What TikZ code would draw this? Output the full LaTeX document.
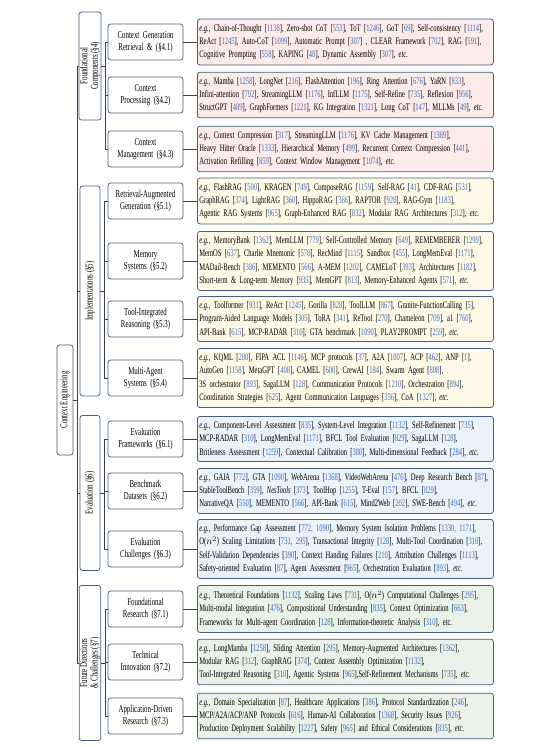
\documentclass[tikz,border=0pt]{standalone}
\usepackage{fontspec}
\setmainfont{Liberation Serif}[FakeStretch=0.655]
\usepackage{tikz}
\usetikzlibrary{positioning}
\definecolor{bd}{RGB}{70,95,125}
\definecolor{cb}{RGB}{60,110,190}
\definecolor{fpink}{RGB}{253,234,234}
\definecolor{fyel}{RGB}{255,249,232}
\definecolor{fblu}{RGB}{235,242,250}
\definecolor{fgrn}{RGB}{233,241,232}
\newcommand{\cit}[1]{[\textcolor{cb}{#1}]}
\newcommand{\EG}{\textit{e.g.},}
\newcommand{\ETC}{\textit{etc.}}

\begin{document}
\begin{tikzpicture}[x=1pt,y=-1pt,
  bx/.style={draw=bd,line width=0.75pt,rounded corners=2.5pt,fill=white},
  rt/.style={bx,rotate=90,minimum width=110pt,minimum height=16pt,inner sep=1pt,
             font=\fontsize{10.5}{11}\selectfont},
  grp/.style={bx,rotate=90,align=center,minimum height=20pt,inner sep=1pt,
              font=\fontsize{10.5}{10.5}\selectfont},
  sec/.style={bx,text width=71pt,align=center,minimum height=36pt,inner sep=2pt,
              font=\fontsize{10.5}{12}\selectfont},
  lf/.style={bx,anchor=west,text width=292pt,align=left,inner xsep=2pt,inner ysep=5pt,
             font=\fontsize{10}{13.3}\selectfont},
  fl/.style={lf,fill=fpink},
  il/.style={lf,fill=fyel},
  el/.style={lf,fill=fblu},
  dl/.style={lf,fill=fgrn},
  ed/.style={draw=black!75,line width=0.6pt}
]
\useasboundingbox (0,0) rectangle (554,747);
\def\SX{145.5}
\def\LX{197}
% root and sections
\node[rt] (root) at (65,400) {Context Engineering};
\node[grp,minimum width=108pt] (fnd)  at (90,66)  {Foundational\\Components (§4)};
\node[grp,minimum width=210pt] (impl) at (90,291) {Implementations (§5)};
\node[grp,minimum width=155pt] (eval) at (90,493) {Evaluation (§6)};
\node[grp,minimum width=155pt] (fut)  at (90,663) {Future Directions\\\& Challenges (§7)};
% subsections
\node[sec] (cgr)   at (\SX,42)  {Context Generation\\Retrieval \& (§4.1)};
\node[sec] (cproc) at (\SX,95)  {Context\\Processing (§4.2)};
\node[sec] (cmgmt) at (\SX,149) {Context\\Management (§4.3)};
\node[sec] (rag)   at (\SX,201) {Retrieval-Augmented\\Generation (§5.1)};
\node[sec] (mem)   at (\SX,261) {Memory\\Systems (§5.2)};
\node[sec] (tir)   at (\SX,319) {Tool-Integrated\\Reasoning (§5.3)};
\node[sec] (mas)   at (\SX,378) {Multi-Agent\\Systems (§5.4)};
\node[sec] (efw)   at (\SX,439) {Evaluation\\Frameworks (§6.1)};
\node[sec] (bds)   at (\SX,491) {Benchmark\\Datasets (§6.2)};
\node[sec] (ech)   at (\SX,549) {Evaluation\\Challenges (§6.3)};
\node[sec] (fres)  at (\SX,609) {Foundational\\Research (§7.1)};
\node[sec] (tinn)  at (\SX,662) {Technical\\Innovation (§7.2)};
\node[sec] (adr)   at (\SX,716) {Application-Driven\\Research (§7.3)};
% leaves: foundational components
\node[fl] (cgrL) at (\LX,42) {\EG{} Chain-of-Thought \cit{1138}, Zero-shot CoT \cit{553}, ToT \cit{1246}, GoT \cit{69}, Self-consistency \cit{1114},\\
  ReAct \cit{1245}, Auto-CoT \cit{1099}, Automatic Prompt \cit{307} , CLEAR Framework \cit{702}, RAG \cit{591},\\
  Cognitive Prompting \cit{558}, KAPING \cit{48}, Dynamic Assembly \cit{307}, \ETC};
\node[fl] (cprocL) at (\LX,95) {\EG{} Mamba \cit{1258}, LongNet \cit{216}, FlashAttention \cit{196}, Ring Attention \cit{676}, YaRN \cit{833},\\
  Infini-attention \cit{792}, StreamingLLM \cit{1176}, InfLLM \cit{1175}, Self-Refine \cit{735}, Reflexion \cit{956},\\
  StructGPT \cit{489}, GraphFormers \cit{1221}, KG Integration \cit{1321}, Long CoT \cit{147}, MLLMs \cit{49}, \ETC};
\node[fl] (cmgmtL) at (\LX,149) {\EG{} Context Compression \cit{317}, StreamingLLM \cit{1176}, KV Cache Management \cit{1389},\\
  Heavy Hitter Oracle \cit{1333}, Hierarchical Memory \cit{499}, Recurrent Context Compression \cit{441},\\
  Activation Refilling \cit{859}, Context Window Management \cit{1074}, \ETC};
% leaves: implementations
\node[il] (ragL) at (\LX,201) {\EG{} FlashRAG \cit{500}, KRAGEN \cit{749}, ComposeRAG \cit{1159}, Self-RAG \cit{41}, CDF-RAG \cit{531},\\
  GraphRAG \cit{374}, LightRAG \cit{360}, HippoRAG \cit{366}, RAPTOR \cit{928}, RAG-Gym \cit{1183},\\
  Agentic RAG Systems \cit{965}, Graph-Enhanced RAG \cit{832}, Modular RAG Architectures \cit{312}, \ETC};
\node[il] (memL) at (\LX,261) {\EG{} MemoryBank \cit{1362}, MemLLM \cit{779}, Self-Controlled Memory \cit{649}, REMEMBERER \cit{1299},\\
  MemOS \cit{637}, Charlie Mnemonic \cit{578}, RecMind \cit{1115}, Sandbox \cit{455}, LongMemEval \cit{1171},\\
  MADail-Bench \cit{386}, MEMENTO \cit{566}, A-MEM \cit{1202}, CAMELoT \cit{393}, Architectures \cit{1182},\\
  Short-term \& Long-term Memory \cit{935}, MemGPT \cit{813}, Memory-Enhanced Agents \cit{571}, \ETC};
\node[il] (tirL) at (\LX,319) {\EG{} Toolformer \cit{931}, ReAct \cit{1245}, Gorilla \cit{828}, ToolLLM \cit{867}, Granite-FunctionCalling \cit{5},\\
  Program-Aided Language Models \cit{305}, ToRA \cit{341}, ReTool \cit{270}, Chameleon \cit{709}, a1 \cit{760},\\
  API-Bank \cit{615}, MCP-RADAR \cit{310}, GTA benchmark \cit{1090}, PLAY2PROMPT \cit{259}, \ETC};
\node[il] (masL) at (\LX,378) {\EG{} KQML \cit{280}, FIPA ACL \cit{1146}, MCP protocols \cit{37}, A2A \cit{1007}, ACP \cit{462}, ANP \cit{1},\\
  AutoGen \cit{1158}, MetaGPT \cit{408}, CAMEL \cit{600}, CrewAI \cit{184}, Swarm Agent \cit{808},\\
  3S orchestrator \cit{893}, SagaLLM \cit{128}, Communication Protocols \cit{1210}, Orchestration \cit{894},\\
  Coordination Strategies \cit{625}, Agent Communication Languages \cit{356}, CoA \cit{1327}, \ETC};
% leaves: evaluation
\node[el] (efwL) at (\LX,439) {\EG{} Component-Level Assessment \cit{835}, System-Level Integration \cit{1132}, Self-Refinement \cit{735},\\
  MCP-RADAR \cit{310}, LongMemEval \cit{1171}, BFCL Tool Evaluation \cit{829}, SagaLLM \cit{128},\\
  Britleness Assessment \cit{1259}, Contextual Calibration \cit{380}, Multi-dimensional Feedback \cit{284}, \ETC};
\node[el] (bdsL) at (\LX,491) {\EG{} GAIA \cit{772}, GTA \cit{1090}, WebArena \cit{1368}, VideoWebArena \cit{476}, Deep Research Bench \cit{87},\\
  StableToolBench \cit{359}, \textit{NesTools} \cit{373}, ToolHop \cit{1255}, T-Eval \cit{157}, BFCL \cit{829},\\
  NarrativeQA \cit{550}, MEMENTO \cit{566}, API-Bank \cit{615}, Mind2Web \cit{202}, SWE-Bench \cit{494}, \ETC};
\node[el] (echL) at (\LX,549) {\EG{} Performance Gap Assessment \cit{772, 1090}, Memory System Isolation Problems \cit{1330, 1171},\\
  O($n^2$) Scaling Limitations \cit{731, 295}, Transactional Integrity \cit{128}, Multi-Tool Coordination \cit{310},\\
  Self-Validation Dependencies \cit{390}, Context Handing Failures \cit{210}, Attribution Challenges \cit{1113},\\
  Safety-oriented Evaluation \cit{87}, Agent Assessment \cit{965}, Orchestration Evaluation \cit{893}, \ETC};
% leaves: future directions
\node[dl] (fresL) at (\LX,609) {\EG{} Theoretical Foundations \cit{1132}, Scaling Laws \cit{731}, O($n^2$) Computational Challenges \cit{295},\\
  Multi-modal Integration \cit{476}, Compositional Understanding \cit{835}, Context Optimization \cit{663},\\
  Frameworks for Multi-agent Coordination \cit{128}, Information-theoretic Analysis \cit{310}, etc.};
\node[dl] (tinnL) at (\LX,662) {\EG{} LongMamba \cit{1258}, Sliding Attention \cit{295}, Memory-Augmented Architectures \cit{1362},\\
  Modular RAG \cit{312}, GraphRAG \cit{374}, Context Assembly Optimization \cit{1132},\\
  Tool-Integrated Reasoning \cit{310}, Agentic Systems \cit{965},Self-Refinement Mechanisms \cit{735}, \ETC};
\node[dl] (adrL) at (\LX,716) {\EG{} Domain Specialization \cit{87}, Healthcare Applications \cit{386}, Protocol Standardization \cit{246},\\
  MCP/A2A/ACP/ANP Protocols \cit{616}, Human-AI Collaboration \cit{1368}, Security Issues \cit{926},\\
  Production Deployment Scalability \cit{1227}, Safety \cit{965} and Ethical Considerations \cit{835}, \ETC};
% root -> sections
\foreach \s in {fnd,impl,eval,fut}
  \draw[ed] (root.south) -- ++(3.5,0) |- (\s.north);
% sections -> subsections
\foreach \s in {cgr,cproc,cmgmt} \draw[ed] (fnd.south) -- ++(4,0) |- (\s.west);
\foreach \s in {rag,mem,tir,mas} \draw[ed] (impl.south) -- ++(4,0) |- (\s.west);
\foreach \s in {efw,bds,ech} \draw[ed] (eval.south) -- ++(4,0) |- (\s.west);
\foreach \s in {fres,tinn,adr} \draw[ed] (fut.south) -- ++(4,0) |- (\s.west);
% subsections -> leaves
\foreach \s in {cgr,cproc,cmgmt,rag,mem,tir,mas,efw,bds,ech,fres,tinn,adr}
  \draw[ed] (\s.east) -- (\s L.west);
\end{tikzpicture}
\end{document}
